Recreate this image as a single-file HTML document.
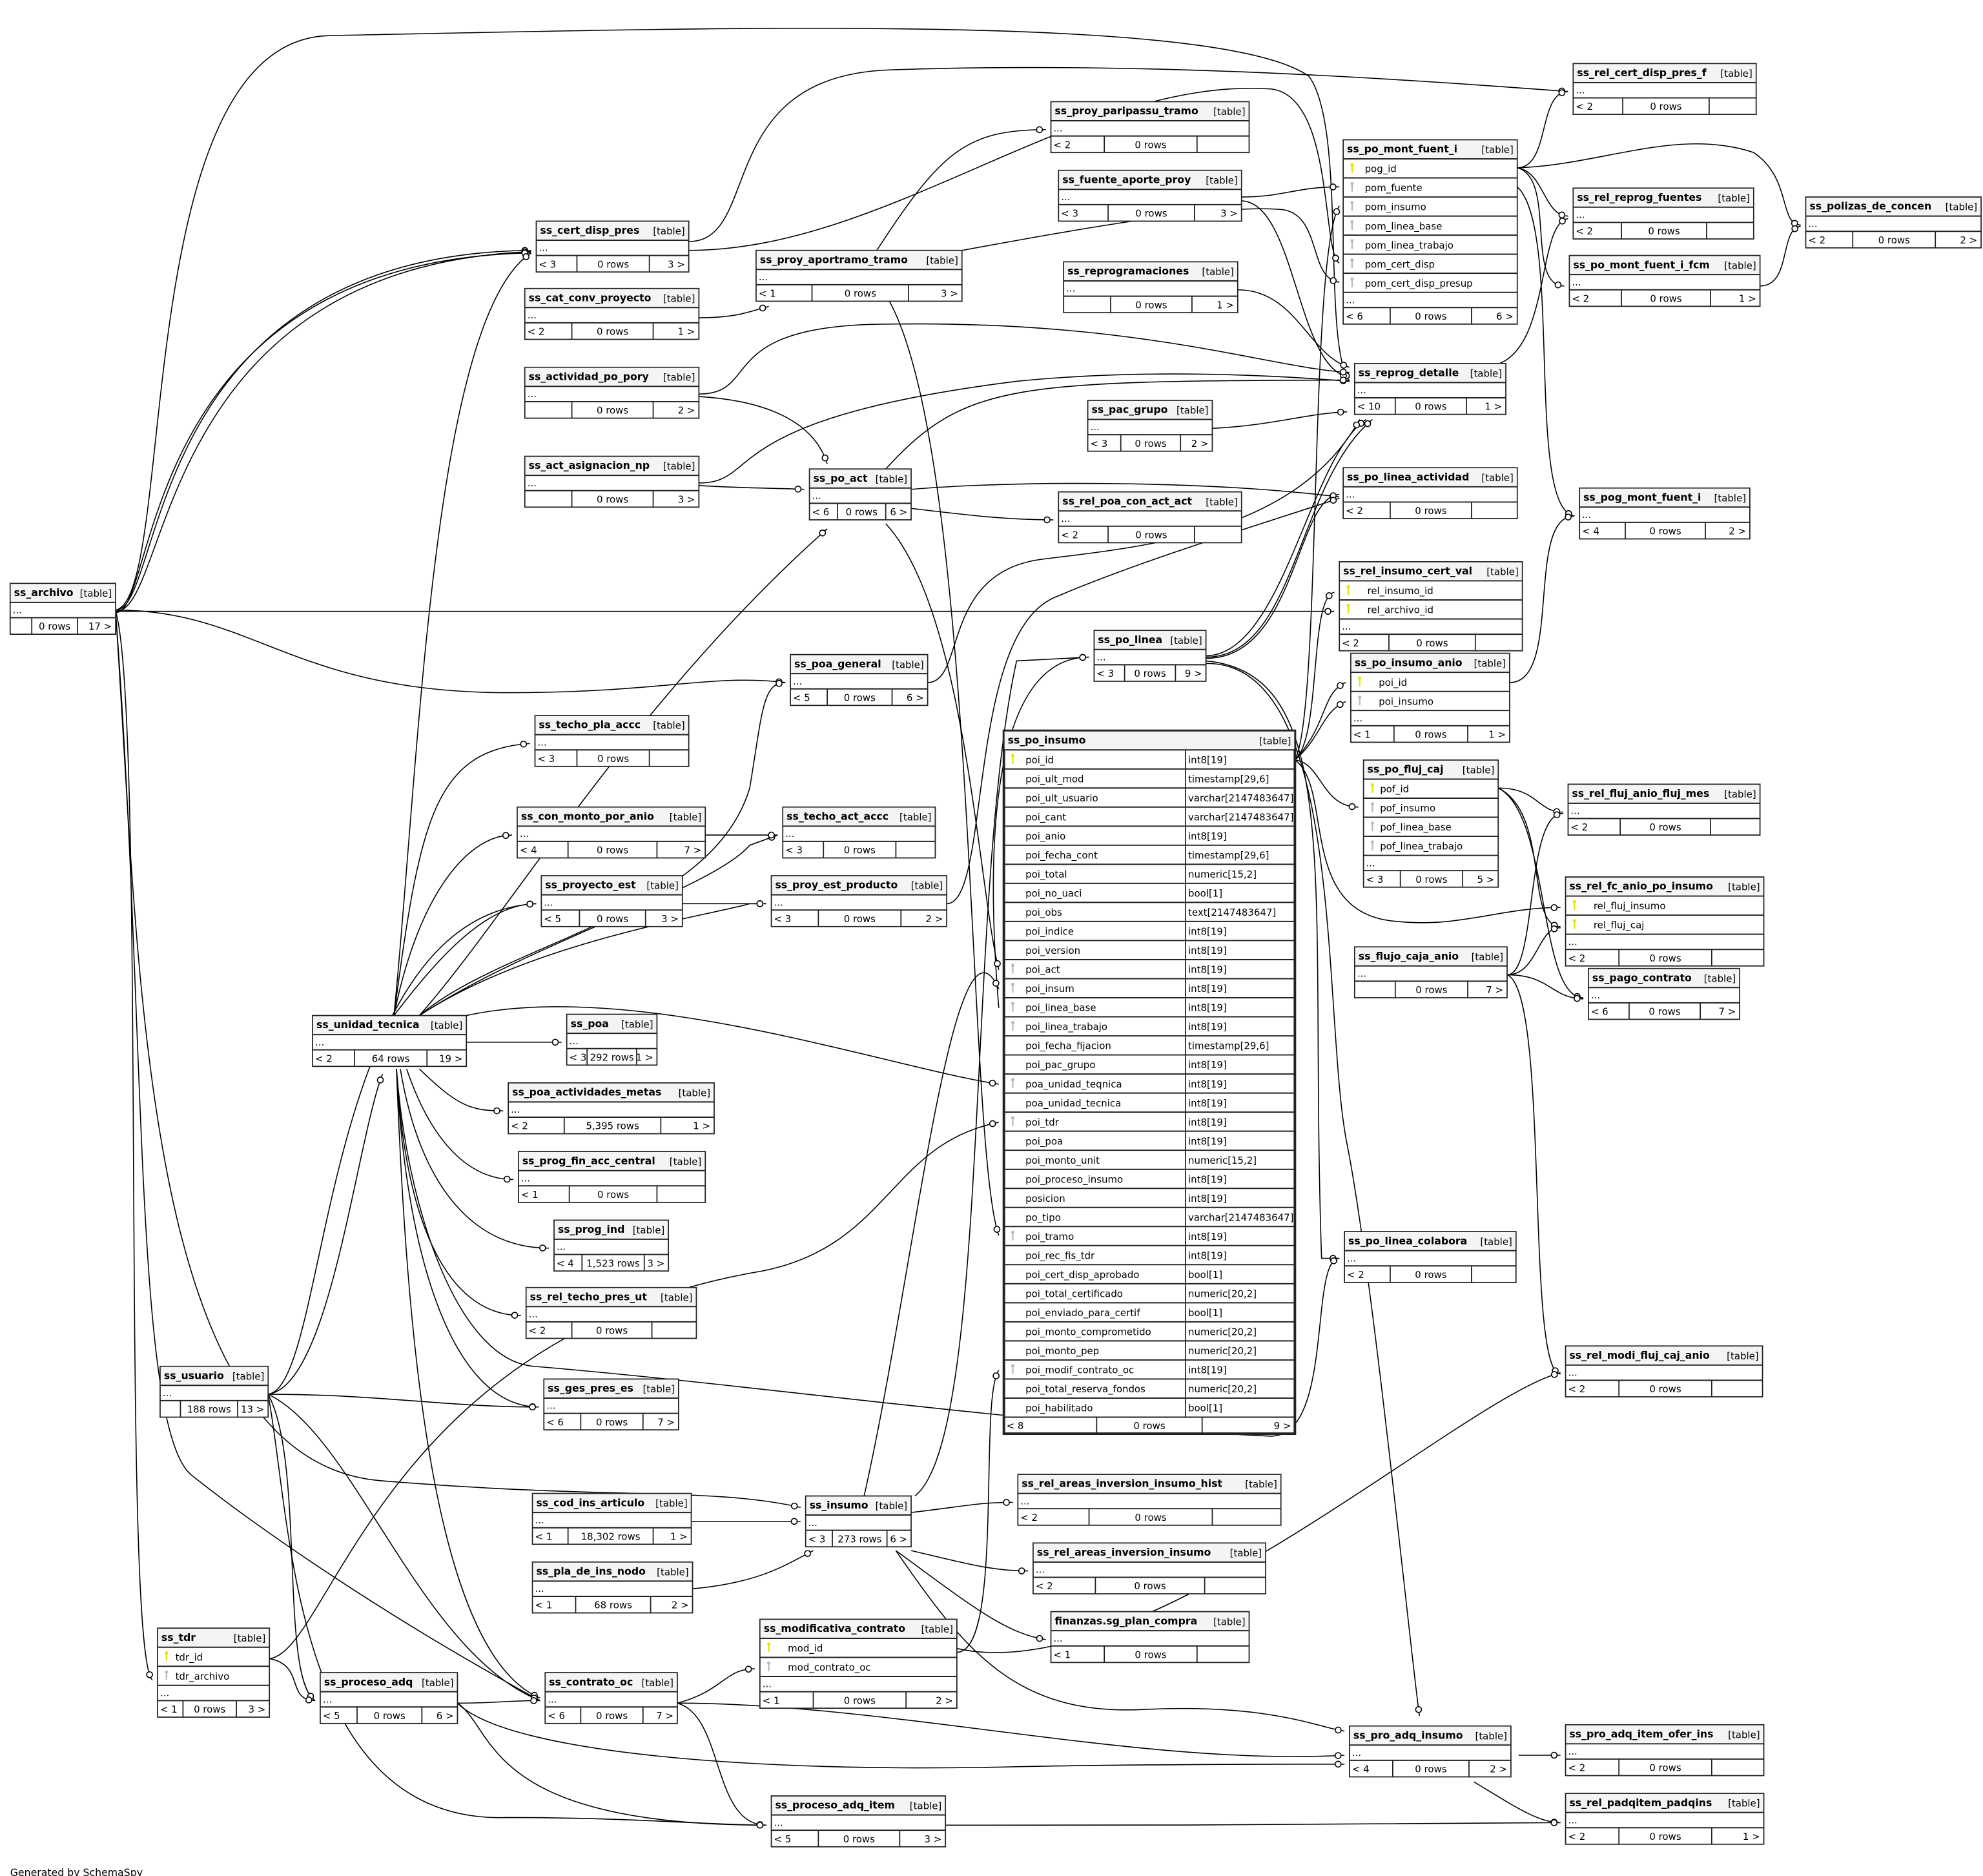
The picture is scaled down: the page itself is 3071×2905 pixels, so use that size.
<!DOCTYPE html>
<html><head><meta charset="utf-8">
<style>
html,body{margin:0;padding:0;background:#fff;}
svg{display:block;}
text{font-family:"DejaVu Sans","Liberation Sans",sans-serif;}
</style></head>
<body>
<svg id="s" xmlns="http://www.w3.org/2000/svg" width="3071" height="2905" viewBox="0 0 1560.5 1476" preserveAspectRatio="none">
<g id="edges" fill="none" stroke="#000" stroke-width="0.8"></g>
<g id="marks"></g>
<g id="tables"></g>
<text x="8" y="1476" font-size="8">Generated by SchemaSpy</text>
</svg>
<script>
const NS='http://www.w3.org/2000/svg';
const FS=7.6;
function el(tag,a,p,t){const e=document.createElementNS(NS,tag);for(const k in a)e.setAttribute(k,a[k]);if(t!==undefined)e.textContent=t;p.appendChild(e);return e;}
const G=document.getElementById('tables'),E=document.getElementById('edges'),M=document.getElementById('marks');
function key(x,y,c,g){el('line',{x1:x,y1:y-4,x2:x,y2:y+3,stroke:c,'stroke-width':1.2},g);el('circle',{cx:x,cy:y-3.5,r:1.3,fill:c},g);}
function T(name,x,y,w,cols,foot,opt){
  opt=opt||{};const g=el('g',{},G);
  const hh=15,rh=15,dh=12,fh=13;
  let h=hh+(cols?cols.length*rh:0)+(opt.nodots?0:dh)+fh;
  el('rect',{x:x,y:y,width:w,height:h,fill:'#fff',stroke:'#222','stroke-width':opt.thick?2:0.9},g);
  el('rect',{x:x+0.5,y:y+0.5,width:w-1,height:hh-1,fill:'#f4f4f4'},g);
  el('text',{x:x+3,y:y+10,'font-size':8,'font-weight':'bold'},g,name);
  el('text',{x:x+w-3,y:y+10.5,'font-size':FS,'text-anchor':'end'},g,'[table]');
  let cy=y+hh;
  el('line',{x1:x,y1:cy,x2:x+w,y2:cy,stroke:'#222','stroke-width':1},g);
  if(cols){for(const c of cols){
    if(c[1]==='p')key(x+7,cy+8,'#e6e600',g);else if(c[1]==='f')key(x+7,cy+8,'#bbb',g);
    el('text',{x:x+(opt.ci||17),y:cy+10.5,'font-size':FS},g,c[0]);
    if(c[2]){el('text',{x:x+opt.dv+2,y:cy+10.5,'font-size':FS},g,c[2]);}
    cy+=rh;el('line',{x1:x,y1:cy,x2:x+w,y2:cy,stroke:'#222','stroke-width':1},g);}
    if(opt.dv)el('line',{x1:x+opt.dv,y1:y+hh,x2:x+opt.dv,y2:cy,stroke:'#222','stroke-width':0.9},g);}
  if(!opt.nodots){el('text',{x:x+2,y:cy+8.5,'font-size':FS},g,'...');cy+=dh;el('line',{x1:x,y1:cy,x2:x+w,y2:cy,stroke:'#222','stroke-width':1},g);}
  const d1=x+(opt.d1!==undefined?opt.d1:Math.round(w*0.27)),d2=x+w-(opt.d2!==undefined?opt.d2:Math.round(w*0.26));
  el('line',{x1:d1,y1:cy,x2:d1,y2:cy+fh,stroke:'#222','stroke-width':0.9},g);
  el('line',{x1:d2,y1:cy,x2:d2,y2:cy+fh,stroke:'#222','stroke-width':0.9},g);
  el('text',{x:x+2,y:cy+9.5,'font-size':FS},g,foot[0]);
  el('text',{x:(d1+d2)/2,y:cy+9.5,'font-size':FS,'text-anchor':'middle'},g,foot[1]);
  el('text',{x:x+w-3,y:cy+9.5,'font-size':FS,'text-anchor':'end'},g,foot[2]);
}
const edges=[
"M91,480 C130,480 110,200 418,197","M91,481 C135,481 120,210 418,198","M91,482 C125,482 105,205 418,199",
"M91,480 C140,470 100,30 260,28 C560,22 960,10 1030,60 C1060,100 1040,270 1062,300",
"M91,481 L1050,481",
"M91,480 C200,480 230,545 400,545 C520,545 560,530 618,537",
"M91,481 C115,560 95,1300 120,1322",
"M91,482 C110,760 110,1150 300,1165 C480,1180 560,1170 630,1186",
"M91,482 C115,800 105,1120 150,1160 C200,1200 300,1270 425,1338",
"M542,190 C600,190 560,60 700,55 C900,48 1100,62 1234,72",
"M542,197 C700,197 850,60 1000,70 C1050,75 1040,200 1054,207",
"M690,197 C740,120 760,102 823,102",
"M757,197 C850,180 960,160 1010,165 C1040,170 1030,220 1054,222",
"M693,226 C770,330 760,900 786,972",
"M550,250 C580,250 590,245 605,241",
"M977,155 C1010,155 1020,147 1054,147",
"M977,158 C1020,160 1020,290 1062,297",
"M974,228 C1020,228 1030,280 1062,289",
"M550,310 C600,310 560,255 700,255 C900,252 1000,290 1062,293",
"M550,312 C600,315 640,330 651,365",
"M550,380 C600,380 560,330 800,300 C900,290 1000,295 1062,300",
"M550,382 C580,384 610,384 633,385",
"M954,337 C1000,335 1030,325 1060,324",
"M697,369 C760,300 800,300 1062,299",
"M717,385 C800,378 950,378 1054,391",
"M717,400 C760,405 790,409 829,409",
"M697,412 C760,480 770,700 786,763",
"M949,517 C1020,517 1020,380 1080,330","M949,518 C1020,518 1020,390 1054,389","M949,516 C1010,515 1030,360 1075,330",
"M949,520 C1060,530 1030,700 1040,990 L1054,990",
"M949,522 C1060,520 1040,800 1060,900 C1080,1000 1110,1300 1117,1350",
"M786,793 C770,600 800,517 857,517",
"M1194,132 C1220,132 1210,72 1234,72","M1194,132 C1215,135 1215,170 1234,170","M1194,132 C1225,140 1200,225 1231,225",
"M1194,132 C1260,130 1320,100 1380,120 C1410,140 1400,177 1417,177",
"M1385,225 C1410,225 1400,180 1417,178",
"M1180,286 C1220,270 1210,175 1234,172",
"M1194,147 C1230,180 1200,400 1239,406",
"M1019,598 C1040,560 1030,200 1054,162","M1019,598 C1040,580 1030,470 1050,466",
"M1019,598 C1040,580 1040,560 1059,552","M1019,598 C1045,570 1040,545 1059,537",
"M1019,598 C1040,600 1040,635 1069,635",
"M1019,598 C1050,620 1020,720 1100,725 C1150,730 1180,714 1228,714",
"M1188,537 C1230,537 1200,406 1239,406",
"M1179,620 C1210,620 1210,639 1230,639","M1179,620 C1220,640 1200,729 1228,729","M1179,620 C1220,640 1210,785 1246,785",
"M1186,767 C1210,767 1200,639 1230,640","M1186,767 C1210,767 1210,729 1228,730","M1186,767 C1220,767 1220,785 1246,786","M1186,767 C1220,780 1200,1081 1228,1081",
"M310,799 C330,600 340,250 418,199",
"M310,799 C330,650 340,590 417,585",
"M310,799 C330,700 370,657 403,657",
"M310,799 C340,760 380,711 422,711",
"M330,799 C400,740 560,720 590,620 C600,560 600,537 618,537",
"M330,799 C400,720 500,550 651,416",
"M330,799 C420,740 560,720 590,711 L603,711",
"M330,799 C420,740 560,700 590,665 L612,657",
"M367,820 L442,820",
"M330,841 C360,870 370,874 396,874",
"M320,841 C340,900 370,928 404,928",
"M315,841 C330,930 370,982 432,982",
"M312,841 C320,980 360,1035 410,1035",
"M312,841 C320,1000 360,1107 424,1107",
"M312,841 C320,1050 340,1300 425,1336",
"M367,799 C500,770 700,840 786,853",
"M312,841 C320,950 360,1070 420,1075 C600,1090 800,1120 1000,1130 C1050,1130 1030,990 1054,990",
"M211,1097 C260,1090 280,900 301,845",
"M211,1097 C260,1090 250,720 422,711",
"M211,1097 C300,1097 350,1107 424,1107",
"M211,1097 C280,1130 330,1300 425,1338",
"M211,1097 C240,1150 220,1320 248,1338",
"M211,1097 C230,1200 230,1436 400,1430 C500,1430 560,1436 603,1436",
"M555,657 L612,657","M537,711 L603,711",
"M745,711 C780,711 760,500 830,470 C900,440 1000,410 1054,392",
"M730,537 C760,537 740,450 820,440 C900,430 1020,420 1070,330",
"M544,1197 L630,1197","M545,1250 C600,1245 620,1230 640,1220",
"M717,1190 C760,1185 770,1182 797,1182","M717,1220 C760,1230 780,1236 809,1236","M705,1220 C760,1260 790,1285 823,1290",
"M680,1177 C720,1000 750,700 786,778",
"M720,1177 C780,1130 760,700 800,520 L857,517",
"M753,1300 C790,1300 770,1100 786,1078",
"M533,1340 C570,1330 570,1313 594,1313",
"M533,1340 C700,1340 900,1390 1058,1381",
"M533,1340 C570,1350 560,1436 603,1436",
"M212,1305 C240,1310 225,1338 248,1338",
"M212,1305 C260,1300 300,1050 600,1000 C700,980 700,900 786,883",
"M360,1340 C390,1340 400,1338 425,1338",
"M360,1340 C390,1360 380,1436 603,1436",
"M360,1340 C400,1380 600,1395 800,1390 C900,1388 1000,1388 1058,1388",
"M1195,1381 L1228,1381","M1160,1402 C1190,1420 1210,1434 1228,1434",
"M744,1436 C900,1436 1100,1436 1228,1434",
"M705,1220 C760,1300 800,1350 900,1345 C1000,1340 1040,1360 1058,1362",
"M753,1297 C900,1330 1150,1100 1228,1080"
];
for(const d of edges){el('path',{d:d},E);}
for(const p of E.querySelectorAll('path')){const L=p.getTotalLength();const a=p.getPointAtLength(L-5);el('circle',{cx:a.x,cy:a.y,r:2.3,fill:'#fff',stroke:'#000','stroke-width':0.8},M);}
T('ss_rel_cert_disp_pres_f',1238,50,144,null,['< 2','0 rows','']);
T('ss_proy_paripassu_tramo',827,80,156,null,['< 2','0 rows','']);
T('ss_po_mont_fuent_i',1057,110,137,[['pog_id','p'],['pom_fuente','f'],['pom_insumo','f'],['pom_linea_base','f'],['pom_linea_trabajo','f'],['pom_cert_disp','f'],['pom_cert_disp_presup','f']],['< 6','0 rows','6 >']);
T('ss_fuente_aporte_proy',833,134,144,null,['< 3','0 rows','3 >']);
T('ss_cert_disp_pres',422,174,120,null,['< 3','0 rows','3 >']);
T('ss_proy_aportramo_tramo',595,197,162,null,['< 1','0 rows','3 >']);
T('ss_reprogramaciones',837,206,137,null,['','0 rows','1 >']);
T('ss_rel_reprog_fuentes',1238,148,142,null,['< 2','0 rows','']);
T('ss_polizas_de_concen',1421,155,138,null,['< 2','0 rows','2 >']);
T('ss_po_mont_fuent_i_fcm',1235,201,150,null,['< 2','0 rows','1 >']);
T('ss_cat_conv_proyecto',413,227,137,null,['< 2','0 rows','1 >']);
T('ss_actividad_po_pory',413,289,137,null,['','0 rows','2 >']);
T('ss_reprog_detalle',1066,286,119,null,['< 10','0 rows','1 >']);
T('ss_pac_grupo',856,315,98,null,['< 3','0 rows','2 >']);
T('ss_act_asignacion_np',413,359,137,null,['','0 rows','3 >']);
T('ss_po_act',637,369,80,null,['< 6','0 rows','6 >'],{d1:22,d2:20});
T('ss_po_linea_actividad',1057,368,137,null,['< 2','0 rows','']);
T('ss_rel_poa_con_act_act',833,387,144,null,['< 2','0 rows','']);
T('ss_pog_mont_fuent_i',1243,384,134,null,['< 4','0 rows','2 >']);
T('ss_rel_insumo_cert_val',1054,442,144,[['rel_insumo_id','p'],['rel_archivo_id','p']],['< 2','0 rows',''],{ci:22});
T('ss_archivo',8,459,83,null,['','0 rows','17 >'],{d1:17,d2:30});
T('ss_po_linea',861,496,88,null,['< 3','0 rows','9 >'],{d1:24,d2:24});
T('ss_poa_general',622,515,108,null,['< 5','0 rows','6 >']);
T('ss_po_insumo_anio',1063,514,125,[['poi_id','p'],['poi_insumo','f']],['< 1','0 rows','1 >'],{ci:22});
T('ss_techo_pla_accc',421,563,121,null,['< 3','0 rows','']);
T('ss_po_insumo',790,575,229,[['poi_id','p','int8[19]'],['poi_ult_mod','','timestamp[29,6]'],['poi_ult_usuario','','varchar[2147483647]'],['poi_cant','','varchar[2147483647]'],['poi_anio','','int8[19]'],['poi_fecha_cont','','timestamp[29,6]'],['poi_total','','numeric[15,2]'],['poi_no_uaci','','bool[1]'],['poi_obs','','text[2147483647]'],['poi_indice','','int8[19]'],['poi_version','','int8[19]'],['poi_act','f','int8[19]'],['poi_insum','f','int8[19]'],['poi_linea_base','f','int8[19]'],['poi_linea_trabajo','f','int8[19]'],['poi_fecha_fijacion','','timestamp[29,6]'],['poi_pac_grupo','','int8[19]'],['poa_unidad_teqnica','f','int8[19]'],['poa_unidad_tecnica','','int8[19]'],['poi_tdr','f','int8[19]'],['poi_poa','','int8[19]'],['poi_monto_unit','','numeric[15,2]'],['poi_proceso_insumo','','int8[19]'],['posicion','','int8[19]'],['po_tipo','','varchar[2147483647]'],['poi_tramo','f','int8[19]'],['poi_rec_fis_tdr','','int8[19]'],['poi_cert_disp_aprobado','','bool[1]'],['poi_total_certificado','','numeric[20,2]'],['poi_enviado_para_certif','','bool[1]'],['poi_monto_comprometido','','numeric[20,2]'],['poi_monto_pep','','numeric[20,2]'],['poi_modif_contrato_oc','f','int8[19]'],['poi_total_reserva_fondos','','numeric[20,2]'],['poi_habilitado','','bool[1]']],['< 8','0 rows','9 >'],{thick:1,nodots:1,dv:143,d1:73,d2:73});
T('ss_po_fluj_caj',1073,598,106,[['pof_id','p'],['pof_insumo','f'],['pof_linea_base','f'],['pof_linea_trabajo','f']],['< 3','0 rows','5 >'],{ci:13});
T('ss_rel_fluj_anio_fluj_mes',1234,617,151,null,['< 2','0 rows','']);
T('ss_con_monto_por_anio',407,635,148,null,['< 4','0 rows','7 >']);
T('ss_techo_act_accc',616,635,120,null,['< 3','0 rows','']);
T('ss_proyecto_est',426,689,111,null,['< 5','0 rows','3 >']);
T('ss_proy_est_producto',607,689,138,null,['< 3','0 rows','2 >']);
T('ss_rel_fc_anio_po_insumo',1232,690,156,[['rel_fluj_insumo','p'],['rel_fluj_caj','p']],['< 2','0 rows',''],{ci:22});
T('ss_flujo_caja_anio',1066,745,120,null,['','0 rows','7 >']);
T('ss_pago_contrato',1250,762,119,null,['< 6','0 rows','7 >']);
T('ss_unidad_tecnica',246,799,121,null,['< 2','64 rows','19 >']);
T('ss_poa',446,798,71,null,['< 3','292 rows','1 >'],{d1:16,d2:16});
T('ss_poa_actividades_metas',400,852,162,null,['< 2','5,395 rows','1 >']);
T('ss_prog_fin_acc_central',408,906,147,null,['< 1','0 rows','']);
T('ss_prog_ind',436,960,90,null,['< 4','1,523 rows','3 >'],{d1:22,d2:19});
T('ss_po_linea_colabora',1058,969,135,null,['< 2','0 rows','']);
T('ss_rel_techo_pres_ut',414,1013,134,null,['< 2','0 rows','']);
T('ss_rel_modi_fluj_caj_anio',1232,1059,155,null,['< 2','0 rows','']);
T('ss_usuario',126,1075,85,null,['','188 rows','13 >'],{d1:16,d2:24});
T('ss_ges_pres_es',428,1085,106,null,['< 6','0 rows','7 >']);
T('ss_rel_areas_inversion_insumo_hist',801,1160,207,null,['< 2','0 rows','']);
T('ss_cod_ins_articulo',419,1175,125,null,['< 1','18,302 rows','1 >'],{d1:28,d2:30});
T('ss_insumo',634,1177,83,null,['< 3','273 rows','6 >'],{d1:21,d2:19});
T('ss_rel_areas_inversion_insumo',813,1214,183,null,['< 2','0 rows','']);
T('ss_pla_de_ins_nodo',419,1229,126,null,['< 1','68 rows','2 >']);
T('finanzas.sg_plan_compra',827,1268,156,null,['< 1','0 rows','']);
T('ss_modificativa_contrato',598,1274,155,[['mod_id','p'],['mod_contrato_oc','f']],['< 1','0 rows','2 >'],{ci:22});
T('ss_tdr',124,1281,88,[['tdr_id','p'],['tdr_archivo','f']],['< 1','0 rows','3 >'],{ci:14,d1:20,d2:26});
T('ss_proceso_adq',252,1316,108,null,['< 5','0 rows','6 >']);
T('ss_contrato_oc',429,1316,104,null,['< 6','0 rows','7 >']);
T('ss_pro_adq_insumo',1062,1358,127,null,['< 4','0 rows','2 >']);
T('ss_pro_adq_item_ofer_ins',1232,1357,156,null,['< 2','0 rows','']);
T('ss_rel_padqitem_padqins',1232,1411,156,null,['< 2','0 rows','1 >']);
T('ss_proceso_adq_item',607,1413,137,null,['< 5','0 rows','3 >']);
</script>
</body></html>
